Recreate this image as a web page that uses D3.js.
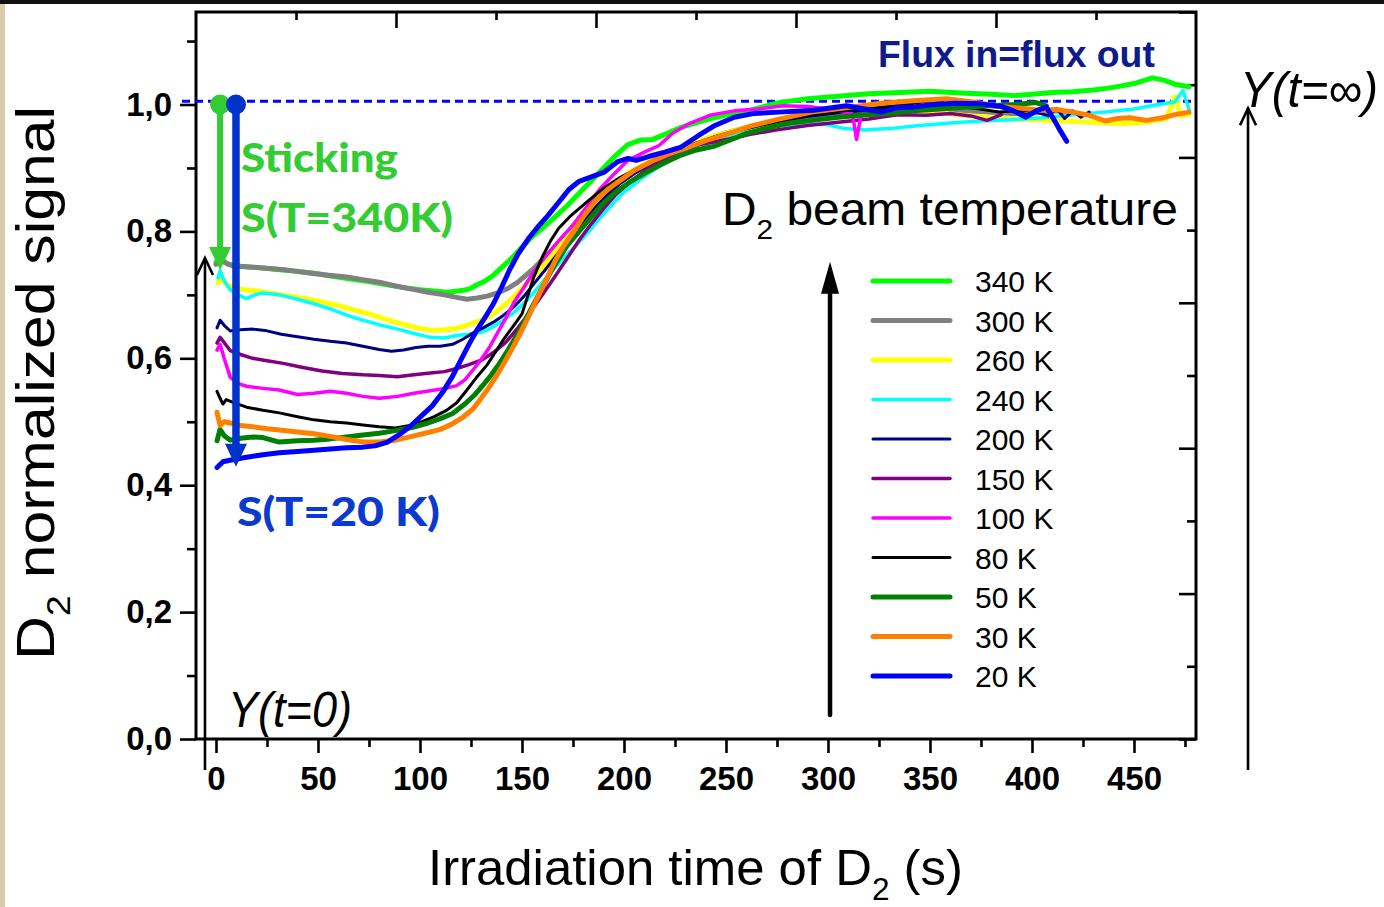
<!DOCTYPE html>
<html><head><meta charset="utf-8">
<script src="https://cdn.jsdelivr.net/npm/d3@7"></script>
<style>body{margin:0;background:#fff;}svg{display:block;}</style>
</head><body>
<svg id="c" width="1384" height="907"></svg>
<script>
// ---------------- data ----------------
const legendLabels = ["340 K","300 K","260 K","240 K","200 K","150 K","100 K","80 K","50 K","30 K","20 K"];
const xTickValues = [0,50,100,150,200,250,300,350,400,450];
const xMinorValues = [25,75,125,175,225,275,325,375,425,475];
const yTickValues = [0,0.2,0.4,0.6,0.8,1.0];
const yMinorValues = [0.1,0.3,0.5,0.7,0.9,1.1];
const fluxLevel = 1.005;
const stickDots = [2, 9.8];           // time positions of the two sticking markers
const stickTips = [0.739, 0.429];     // arrow tips (S at 340 K and at 20 K)

const s340 = [[0,0.752],[2,0.757],[6,0.748],[12,0.745],[20,0.743],[30,0.740],[40,0.737],[48,0.734],[58,0.729],[66,0.725],[75,0.721],[84,0.716],[93,0.711],[100,0.708],[107,0.706],[113,0.704],[119,0.706],[124,0.709],[128,0.716],[132,0.722],[136,0.731],[140,0.743],[145,0.758],[150,0.775],[155,0.792],[160,0.805],[166,0.822],[172,0.840],[178,0.860],[184,0.880],[190,0.900],[196,0.920],[202,0.937],[208,0.944],[214,0.945],[220,0.953],[228,0.964],[236,0.972],[244,0.979],[252,0.985],[262,0.991],[276,1.003],[290,1.009],[305,1.013],[320,1.017],[335,1.019],[350,1.021],[365,1.018],[380,1.016],[391,1.014],[400,1.016],[410,1.019],[420,1.020],[430,1.023],[440,1.027],[450,1.033],[459,1.042],[465,1.038],[470,1.032],[477,1.028]];
const s300 = [[0,0.748],[3,0.753],[8,0.746],[16,0.744],[25,0.742],[35,0.739],[45,0.735],[55,0.731],[64,0.728],[72,0.724],[80,0.720],[88,0.714],[96,0.709],[104,0.704],[112,0.700],[118,0.696],[123,0.693],[128,0.695],[133,0.698],[138,0.703],[143,0.710],[148,0.720],[152,0.731],[156,0.742],[160,0.756],[165,0.772],[170,0.790],[176,0.812],[182,0.835],[188,0.856],[194,0.872],[200,0.886],[208,0.901],[216,0.914],[225,0.928],[235,0.940],[245,0.951],[258,0.962],[272,0.972],[288,0.980],[305,0.986],[322,0.989],[340,0.990],[358,0.991],[375,0.989],[390,0.986],[403,0.987],[412,0.990],[420,0.988]];
const s260 = [[1,0.719],[3,0.726],[6,0.714],[12,0.709],[20,0.706],[28,0.702],[36,0.698],[44,0.694],[52,0.689],[60,0.683],[68,0.676],[76,0.669],[84,0.661],[92,0.653],[100,0.647],[106,0.644],[112,0.645],[118,0.647],[124,0.653],[130,0.660],[135,0.668],[140,0.680],[145,0.694],[150,0.710],[155,0.727],[160,0.745],[166,0.768],[172,0.795],[178,0.820],[184,0.843],[190,0.862],[196,0.877],[204,0.895],[212,0.909],[222,0.924],[232,0.937],[244,0.950],[258,0.962],[272,0.973],[288,0.983],[305,0.990],[322,0.993],[340,0.991],[355,0.987],[370,0.982],[385,0.978],[400,0.976],[415,0.974],[430,0.972],[445,0.970],[458,0.973],[466,0.978],[470,1.012],[473,0.982],[477,0.985]];
const s240 = [[1,0.727],[2,0.738],[4,0.722],[7,0.708],[11,0.700],[15,0.694],[19,0.700],[23,0.703],[31,0.700],[40,0.693],[48,0.686],[56,0.678],[64,0.668],[72,0.660],[80,0.653],[89,0.646],[97,0.639],[105,0.633],[112,0.632],[118,0.636],[124,0.638],[130,0.641],[135,0.648],[140,0.658],[146,0.672],[152,0.690],[158,0.712],[164,0.735],[170,0.757],[176,0.776],[182,0.797],[188,0.820],[194,0.842],[200,0.862],[208,0.882],[216,0.900],[226,0.917],[236,0.932],[248,0.946],[262,0.958],[276,0.966],[290,0.970],[300,0.968],[308,0.962],[318,0.960],[330,0.962],[345,0.967],[360,0.971],[375,0.974],[390,0.976],[405,0.979],[420,0.984],[435,0.988],[450,0.993],[462,1.000],[470,1.004],[474,1.022],[477,0.992]];
const s200 = [[0.5,0.648],[2,0.660],[4,0.652],[7,0.643],[12,0.645],[18,0.646],[24,0.644],[32,0.638],[40,0.634],[48,0.630],[56,0.627],[64,0.624],[72,0.619],[80,0.614],[86,0.611],[92,0.613],[98,0.617],[104,0.619],[110,0.619],[116,0.622],[121,0.630],[126,0.640],[131,0.648],[136,0.657],[141,0.668],[146,0.681],[151,0.698],[156,0.718],[162,0.742],[168,0.767],[174,0.792],[180,0.816],[186,0.838],[192,0.858],[198,0.875],[205,0.891],[214,0.908],[224,0.924],[234,0.938],[246,0.951],[260,0.963],[275,0.973],[290,0.981],[305,0.987],[320,0.991],[335,0.995],[350,0.998],[365,1.000],[380,0.997],[393,0.992],[402,0.988],[408,0.982],[412,0.994],[416,0.978],[420,0.990],[424,0.980],[428,0.988]];
const s150 = [[0.5,0.624],[2,0.633],[4,0.625],[7,0.612],[12,0.606],[18,0.600],[25,0.596],[33,0.592],[42,0.586],[52,0.580],[62,0.576],[72,0.574],[80,0.573],[89,0.571],[97,0.574],[105,0.577],[112,0.579],[118,0.584],[124,0.590],[130,0.597],[136,0.609],[142,0.625],[148,0.648],[154,0.673],[160,0.700],[166,0.728],[172,0.757],[178,0.786],[184,0.812],[190,0.836],[196,0.858],[203,0.878],[210,0.895],[218,0.910],[228,0.925],[237,0.937],[244,0.941],[252,0.946],[262,0.953],[275,0.960],[290,0.967],[305,0.972],[320,0.977],[334,0.984],[348,0.983],[360,0.986],[370,0.982],[378,0.975],[385,0.984]];
const s100 = [[0.5,0.613],[2,0.622],[4,0.600],[7,0.570],[11,0.560],[15,0.556],[22,0.553],[31,0.550],[40,0.543],[48,0.545],[56,0.548],[64,0.545],[72,0.540],[80,0.537],[89,0.540],[97,0.545],[105,0.549],[113,0.553],[118,0.557],[122,0.566],[126,0.582],[130,0.598],[134,0.617],[138,0.640],[142,0.663],[146,0.688],[151,0.712],[156,0.738],[162,0.762],[168,0.785],[175,0.810],[182,0.840],[188,0.866],[195,0.890],[202,0.912],[210,0.925],[217,0.935],[224,0.955],[232,0.970],[242,0.983],[254,0.990],[266,0.993],[278,0.998],[290,0.997],[302,0.992],[312,0.985],[314,0.945],[316,0.980],[320,0.990]];
const s80 = [[0.5,0.548],[2,0.537],[3.4,0.528],[5,0.535],[8,0.531],[15,0.523],[23,0.518],[31,0.514],[40,0.508],[48,0.503],[56,0.500],[64,0.498],[72,0.495],[80,0.492],[88,0.490],[95,0.494],[101,0.500],[107,0.508],[113,0.518],[118,0.530],[123,0.550],[128,0.571],[133,0.590],[137,0.610],[141,0.630],[146,0.652],[150,0.670],[153,0.700],[156,0.730],[160,0.760],[164,0.785],[168,0.805],[174,0.825],[182,0.847],[190,0.868],[198,0.885],[206,0.898],[214,0.910],[222,0.921],[232,0.934],[242,0.946],[254,0.957],[268,0.968],[282,0.978],[296,0.986],[310,0.991],[324,0.995],[338,1.000],[350,1.006],[360,0.998],[372,0.994],[384,0.988],[392,0.990],[398,0.983]];
const s50 = [[0.5,0.470],[2,0.488],[4,0.478],[7,0.471],[12,0.474],[18,0.476],[23,0.475],[31,0.468],[40,0.470],[48,0.471],[56,0.473],[64,0.476],[72,0.479],[80,0.482],[88,0.486],[96,0.491],[104,0.498],[110,0.505],[116,0.513],[122,0.528],[127,0.543],[131,0.558],[135,0.574],[139,0.592],[143,0.612],[147,0.634],[151,0.657],[155,0.681],[159,0.705],[163,0.730],[167,0.752],[172,0.777],[178,0.800],[184,0.823],[190,0.845],[196,0.862],[203,0.878],[211,0.893],[219,0.907],[227,0.919],[235,0.928],[244,0.934],[252,0.944],[260,0.954],[270,0.963],[280,0.970],[292,0.975],[305,0.980],[318,0.984],[330,0.986],[342,0.990],[355,0.993],[368,0.996],[380,0.998],[392,1.000],[402,1.003],[407,0.998]];
const s30 = [[0.5,0.515],[2,0.494],[4,0.500],[7,0.498],[12,0.494],[18,0.492],[25,0.489],[31,0.487],[40,0.484],[48,0.481],[56,0.477],[64,0.472],[72,0.468],[80,0.468],[88,0.471],[96,0.477],[104,0.483],[110,0.488],[116,0.497],[121,0.507],[126,0.520],[130,0.537],[134,0.555],[138,0.575],[142,0.597],[146,0.620],[150,0.645],[154,0.671],[158,0.698],[162,0.725],[166,0.752],[170,0.775],[175,0.798],[180,0.823],[186,0.848],[192,0.866],[198,0.880],[205,0.896],[214,0.911],[222,0.922],[230,0.931],[240,0.943],[252,0.955],[262,0.966],[276,0.977],[292,0.988],[309,0.995],[326,1.002],[342,1.006],[358,1.009],[371,1.004],[384,0.997],[395,0.994],[404,0.991],[412,0.992],[420,0.988],[428,0.983],[436,0.974],[442,0.978],[448,0.979],[456,0.975],[464,0.979],[470,0.984],[477,0.988]];
const s20 = [[0.5,0.428],[3.4,0.437],[8,0.440],[15,0.444],[23,0.448],[31,0.451],[40,0.453],[48,0.455],[56,0.457],[64,0.459],[72,0.460],[78,0.462],[84,0.468],[90,0.480],[96,0.495],[101,0.510],[106,0.525],[111,0.546],[116,0.572],[120,0.597],[124,0.622],[128,0.645],[132,0.665],[136,0.686],[140,0.712],[144,0.740],[148,0.764],[153,0.788],[158,0.808],[163,0.826],[168,0.846],[173,0.866],[178,0.879],[184,0.886],[190,0.893],[197,0.910],[202,0.915],[206,0.912],[212,0.918],[220,0.925],[228,0.933],[236,0.950],[244,0.966],[254,0.980],[264,0.986],[276,0.988],[293,0.991],[309,0.998],[318,0.993],[326,0.988],[334,0.995],[342,0.996],[352,1.000],[362,1.002],[375,1.001],[385,0.997],[391,0.990],[397,0.980],[402,0.990],[407,0.996],[411,0.975],[414,0.958],[417,0.942]];

const seriesData = [s340,s300,s260,s240,s200,s150,s100,s80,s50,s30,s20];
// styles (separate from data)
const seriesColor = ["#00ff00","#808080","#ffff00","#00ffff","#000080","#800080","#ff00ff","#000000","#008000","#ff8000","#0000ff"];
const seriesWidth = [5,5,5,3.5,3,3.5,3.5,3,5,5,5];

// ---------------- drawing ----------------
const F = "'Liberation Sans', Arial, sans-serif";
const svg = d3.select("#c");
svg.append("rect").attr("width",1384).attr("height",907).attr("fill","#fff");
svg.append("rect").attr("x",0).attr("y",0).attr("width",1384).attr("height",4).attr("fill","#111");
svg.append("rect").attr("x",0).attr("y",4).attr("width",5).attr("height",903).attr("fill","#d9ccae");

const x = d3.scaleLinear().domain([-9.8, 480.4]).range([196, 1196]);
const y = d3.scaleLinear().domain([0, 1.1458]).range([739, 12]);
const xTop = d3.scaleLinear().domain([0, 1000]).range([196, 1196]);
const yRight = d3.scaleLinear().domain([0, 1]).range([739, 12]);

function styleAxis(g, withText) {
  g.select(".domain").remove();
  g.selectAll(".tick line").attr("stroke","#000").attr("stroke-width",2.6);
  if (withText) g.selectAll(".tick text").attr("font-family",F).attr("font-weight","bold").attr("font-size",33).attr("fill","#000");
}

// left axis
svg.append("g").attr("transform","translate(196,0)")
  .call(d3.axisLeft(y).tickValues(yTickValues).tickSize(16).tickPadding(8).tickFormat(d=>d.toFixed(1).replace(".",",")))
  .call(g=>styleAxis(g,true));
svg.append("g").attr("transform","translate(196,0)")
  .call(d3.axisLeft(y).tickValues(yMinorValues).tickSize(9).tickFormat(""))
  .call(g=>styleAxis(g,false));
// bottom axis
svg.append("g").attr("transform","translate(0,739)")
  .call(d3.axisBottom(x).tickValues(xTickValues).tickSize(14).tickPadding(14))
  .call(g=>styleAxis(g,true));
svg.append("g").attr("transform","translate(0,739)")
  .call(d3.axisBottom(x).tickValues(xMinorValues).tickSize(8).tickFormat(""))
  .call(g=>styleAxis(g,false));
// top axis (inward ticks, no labels)
svg.append("g").attr("transform","translate(0,12)")
  .call(d3.axisTop(xTop).tickValues([200,400,600,800]).tickSize(-16).tickFormat(""))
  .call(g=>styleAxis(g,false));
svg.append("g").attr("transform","translate(0,12)")
  .call(d3.axisTop(xTop).tickValues([100,300,500,700,900]).tickSize(-8).tickFormat(""))
  .call(g=>styleAxis(g,false));
// right axis (inward ticks, no labels)
svg.append("g").attr("transform","translate(1196,0)")
  .call(d3.axisRight(yRight).tickValues([0,0.2,0.4,0.6,0.8,1.0]).tickSize(-17).tickFormat(""))
  .call(g=>styleAxis(g,false));
svg.append("g").attr("transform","translate(1196,0)")
  .call(d3.axisRight(yRight).tickValues([0.1,0.3,0.5,0.7,0.9]).tickSize(-9).tickFormat(""))
  .call(g=>styleAxis(g,false));

// frame
svg.append("rect").attr("x",196).attr("y",12).attr("width",1000).attr("height",727)
  .attr("fill","none").attr("stroke","#000").attr("stroke-width",3);

// flux dashed line
svg.append("line").attr("x1",182).attr("x2",x.range()[1]).attr("y1",y(fluxLevel)).attr("y2",y(fluxLevel))
  .attr("stroke","#0000ff").attr("stroke-width",3).attr("stroke-dasharray","8,5");

// curves
const line = d3.line().x(d=>x(d[0])).y(d=>y(d[1]));
svg.append("g").selectAll("path").data(seriesData).join("path")
  .attr("d", line)
  .attr("fill","none")
  .attr("stroke",(d,i)=>seriesColor[i])
  .attr("stroke-width",(d,i)=>seriesWidth[i])
  .attr("stroke-linejoin","round").attr("stroke-linecap","round");

// sticking arrows
const stickCol = ["#33cc33","#0033cc"];
stickDots.forEach((t,i)=>{
  const cx = x(t), top = y(1.0), tip = y(stickTips[i]);
  svg.append("line").attr("x1",cx).attr("x2",cx).attr("y1",top).attr("y2",tip-18)
    .attr("stroke",stickCol[i]).attr("stroke-width",i===0?6:7.5);
  svg.append("path").attr("d",`M${cx-11},${tip-23} L${cx+11},${tip-23} L${cx},${tip} Z`).attr("fill",stickCol[i]);
  svg.append("circle").attr("cx",cx).attr("cy",top).attr("r",10).attr("fill",stickCol[i]);
});

// text helper
function addText(o) {
  const g = svg.append("g").attr("transform",`translate(${o.x},${o.y})${o.rot?` rotate(${o.rot})`:""}`);
  const t = g.append("text").attr("font-family",o.family||F).attr("font-size",o.fs)
    .attr("font-weight",o.weight||"normal").attr("font-style",o.style||"normal").attr("fill",o.fill||"#000");
  o.parts.forEach(p=>{
    const ts = t.append("tspan").text(p.t);
    if (p.sub) ts.attr("font-size",o.fs*0.62).attr("dy",o.fs*0.3);
    if (p.after) ts.attr("dy",-o.fs*0.3);
  });
  if (o.width) {
    const w = t.node().getComputedTextLength();
    t.attr("transform",`scale(${o.width/w},1)`);
  }
  return t;
}
const LATO = "Lato, 'Open Sans', sans-serif";
addText({x:241,y:172,fs:39,weight:"900",family:LATO,fill:"#33cc33",width:157,parts:[{t:"Sticking"}]});
addText({x:241,y:232,fs:39,weight:"900",family:LATO,fill:"#33cc33",width:212,parts:[{t:"S(T=340K)"}]});
addText({x:237,y:526,fs:39,weight:"900",family:LATO,fill:"#0a3ad0",width:203,parts:[{t:"S(T=20 K)"}]});
addText({x:878,y:67,fs:37,weight:"bold",fill:"#0f1a8c",width:277,parts:[{t:"Flux in=flux out"}]});
addText({x:722,y:225,fs:46,width:456,parts:[{t:"D"},{t:"2",sub:true},{t:" beam temperature",after:true}]});
addText({x:228,y:727,fs:50,style:"italic",width:124,parts:[{t:"Y(t=0)"}]});
addText({x:1240,y:107,fs:50,style:"italic",width:138,parts:[{t:"Y(t=∞)"}]});
addText({x:428,y:885,fs:50,width:535,parts:[{t:"Irradiation time of D"},{t:"2",sub:true},{t:" (s)",after:true}]});
addText({x:54,y:660,rot:-90,fs:54,width:554,parts:[{t:"D"},{t:"2",sub:true},{t:" normalized signal",after:true}]});

// Y(t=0) and Y(t=inf) arrows (open chevron heads)
function openArrow(t, v0, v1) {
  const ax = x(t), y0 = y(v0), y1 = y(v1);
  svg.append("line").attr("x1",ax).attr("x2",ax).attr("y1",y0).attr("y2",y1).attr("stroke","#000").attr("stroke-width",2.6);
  svg.append("path").attr("d",`M${ax-8},${y1+17} L${ax},${y1} L${ax+8},${y1+17}`).attr("fill","none").attr("stroke","#000").attr("stroke-width",2.6);
}
openArrow(-5.4, -0.049, 0.758);
openArrow(505.9, -0.049, 0.994);
// temperature arrow (filled head)
{
  const ax = x(301), y0 = y(0.038), y1 = y(0.752);
  svg.append("line").attr("x1",ax).attr("x2",ax).attr("y1",y0).attr("y2",y1+25).attr("stroke","#000").attr("stroke-width",4.5).attr("stroke-linecap","round");
  svg.append("path").attr("d",`M${ax-9},${y1+32} L${ax},${y1} L${ax+9},${y1+32} Z`).attr("fill","#000");
}

// legend
const leg = svg.append("g");
legendLabels.forEach((lab,i)=>{
  const cy = 281 + i*39.5;
  leg.append("line").attr("x1",873).attr("x2",950).attr("y1",cy).attr("y2",cy)
    .attr("stroke",seriesColor[i]).attr("stroke-width",seriesWidth[i]).attr("stroke-linecap","round");
  leg.append("text").attr("x",975).attr("y",cy+11).attr("font-family",F).attr("font-size",30).attr("fill","#000").text(lab);
});
</script>
</body></html>
